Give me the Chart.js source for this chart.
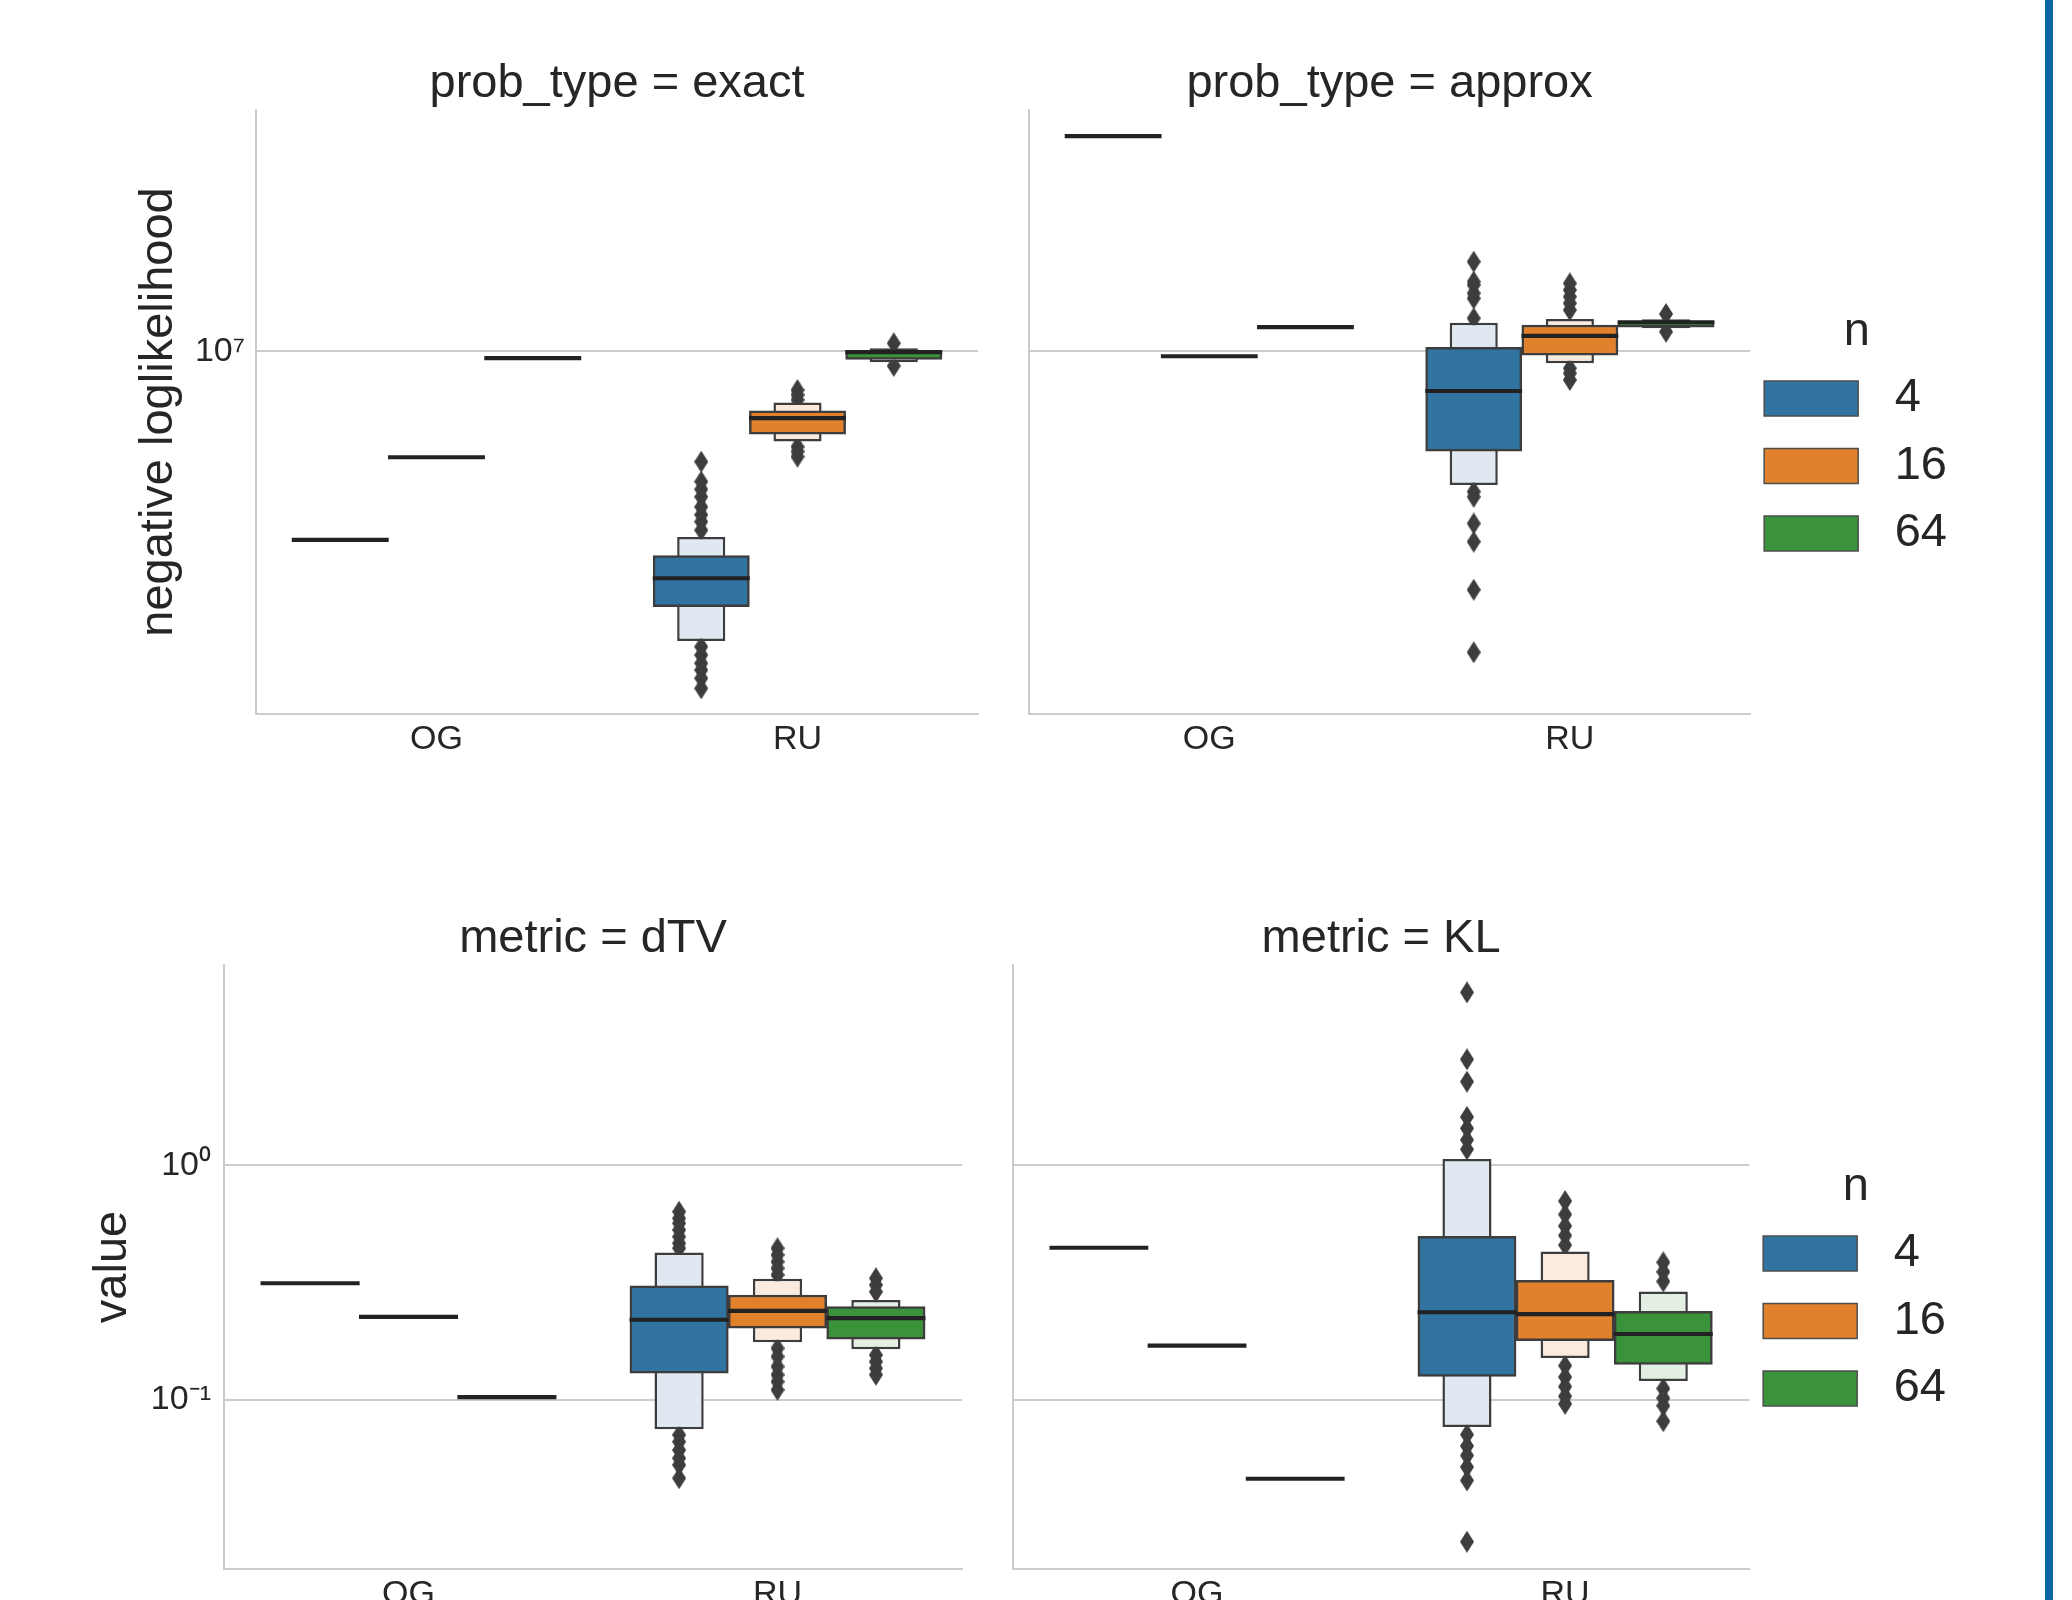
<!DOCTYPE html>
<html>
<head>
<meta charset="utf-8">
<script src="https://cdn.jsdelivr.net/npm/chart.js@4.4.1/dist/chart.umd.min.js"></script>
<style>
    html, body { margin: 0; padding: 0; background: #fff; }
    body { width: 2072px; height: 1600px; position: relative; overflow: hidden; }
    canvas { position: absolute; }
    #edge { position: absolute; left: 2045px; top: 0; width: 8px; height: 1600px; background: #0866a5; }
</style>
</head>
<body>
<canvas id="exactChart" width="960" height="800" style="left:60px;top:0px"></canvas>
<canvas id="approxChart" width="1040" height="800" style="left:1000px;top:0px"></canvas>
<canvas id="dtvChart" width="960" height="800" style="left:40px;top:840px"></canvas>
<canvas id="klChart" width="1050" height="800" style="left:990px;top:840px"></canvas>
<div id="edge"></div>
<script>
const categories = ['OG', 'RU'];
const nLevels = ['4', '16', '64'];
const hueColors = ['#3274a1', '#e1812c', '#3a923a'];
const hueLight = ['#e0e9f1', '#fbebdf', '#e2efe2'];

// tick labels
const nllTicks = [1e7];
const nllTickLabels = ['10⁷'];
const valueTicks = [1, 0.1];
const valueTickLabels = ['10⁰', '10⁻¹'];

// prob_type = exact   (per n: [OG, RU])
const exactMedian = [[3.62e6, 2.95e6], [5.63e6, 6.94e6], [9.56e6, 9.87e6]];
const exactQuartiles = [[null, [2.56e6, 3.36e6]], [null, [6.43e6, 7.28e6]], [null, [9.59e6, 1.004e7]]];
const exactOctiles = [[null, [2.13e6, 3.71e6]], [null, [6.18e6, 7.61e6]], [null, [9.44e6, 1.017e7]]];
const exactOutliers = [
    [[], [5.55e6, 4.99e6, 4.79e6, 4.60e6, 4.36e6, 4.18e6, 4.03e6, 3.85e6, 2.066e6, 1.976e6, 1.891e6, 1.824e6, 1.745e6, 1.654e6]],
    [[], [8.14e6, 7.93e6, 7.72e6, 6.01e6, 5.86e6, 5.70e6]],
    [[], [1.045e7, 9.26e6]]
];

// prob_type = approx
const approxMedian = [[3.13e7, 8.02e6], [9.66e6, 1.077e7], [1.128e7, 1.158e7]];
const approxQuartiles = [[null, [5.87e6, 1.023e7]], [null, [9.81e6, 1.152e7]], [null, [1.138e7, 1.177e7]]];
const approxOctiles = [[null, [4.90e6, 1.166e7]], [null, [9.39e6, 1.19e7]], [null, [1.132e7, 1.188e7]]];
const approxOutliers = [
    [[], [1.616e7, 1.452e7, 1.427e7, 1.365e7, 1.328e7, 1.194e7, 4.73e6, 4.60e6, 3.99e6, 3.62e6, 2.80e6, 2.005e6]],
    [[], [1.439e7, 1.389e7, 1.340e7, 1.294e7, 1.248e7, 9.14e6, 8.90e6, 8.59e6]],
    [[], [1.222e7, 1.111e7]]
];

// metric = dTV
const dtvMedian = [[0.309, 0.216], [0.222, 0.2355], [0.101, 0.2193]];
const dtvQuartiles = [[null, [0.130, 0.306]], [null, [0.202, 0.280]], [null, [0.1815, 0.250]]];
const dtvOctiles = [[null, [0.075, 0.425]], [null, [0.176, 0.328]], [null, [0.1644, 0.2667]]];
const dtvOutliers = [
    [[], [0.634, 0.594, 0.566, 0.530, 0.496, 0.465, 0.443, 0.0710, 0.0664, 0.0612, 0.0565, 0.0529, 0.0464]],
    [[], [0.443, 0.415, 0.388, 0.364, 0.341, 0.166, 0.153, 0.1387, 0.128, 0.1197, 0.1104]],
    [[], [0.330, 0.309, 0.289, 0.1555, 0.1456, 0.1364, 0.128]]
];

// metric = KL
const klMedian = [[0.4375, 0.2323], [0.1675, 0.228], [0.0454, 0.1877]];
const klQuartiles = [[null, [0.126, 0.498]], [null, [0.1788, 0.3236]], [null, [0.1417, 0.2388]]];
const klOctiles = [[null, [0.0768, 1.064]], [null, [0.151, 0.4287]], [null, [0.1205, 0.290]]];
const klOutliers = [
    [[], [5.45, 2.825, 2.27, 1.607, 1.436, 1.283, 1.169, 0.0712, 0.0637, 0.0580, 0.0518, 0.0454, 0.0249]],
    [[], [0.704, 0.617, 0.551, 0.502, 0.457, 0.140, 0.1252, 0.114, 0.1037, 0.0962]],
    [[], [0.386, 0.3514, 0.320, 0.1119, 0.1018, 0.0945, 0.0812]]
];

const FONT = "'Liberation Sans', Arial, sans-serif";
const TEXT = '#262626';
const EDGE = '#3d3d3d';
const SPINE = '#cccccc';
Chart.defaults.font.family = FONT;
Chart.defaults.color = TEXT;

// thin diamond marker for outliers
function thinDiamond(w, h, color) {
    const c = document.createElement('canvas');
    c.width = w;
    c.height = h;
    const g = c.getContext('2d');
    g.fillStyle = color;
    g.beginPath();
    g.moveTo(w / 2, 0);
    g.lineTo(w, h / 2);
    g.lineTo(w / 2, h);
    g.lineTo(0, h / 2);
    g.closePath();
    g.fill();
    return c;
}
const diamond = thinDiamond(14, 22, EDGE);

// pull the legend a little closer to the axes
const legendNudge = {
    id: 'legendNudge',
    afterLayout(chart) {
        const lg = chart.legend;
        if (lg && lg.options.display) {
            lg.left -= 6.5;
            lg.right -= 6.5;
        }
    }
};

// dodge: x position of hue h inside category c
const dodge = 0.8 / nLevels.length;
const hueX = (c, h) => c + (h - 1) * dodge;

function boxPoints(values, h) {
    const pts = [];
    values.forEach((v, c) => { if (v !== null) pts.push({ x: hueX(c, h), y: v }); });
    return pts;
}

function boxenDatasets(median, quartiles, octiles, outliers) {
    const sets = [];
    nLevels.forEach((n, h) => {
        sets.push({
            label: n, data: boxPoints(quartiles[h], h), order: 1, grouped: false,
            backgroundColor: hueColors[h], borderColor: EDGE, borderWidth: 2.5, borderSkipped: false,
            barPercentage: 1, categoryPercentage: 1
        });
        sets.push({
            label: n + ' outer', data: boxPoints(octiles[h], h), order: 2, grouped: false,
            backgroundColor: hueLight[h], borderColor: EDGE, borderWidth: 2.5, borderSkipped: false,
            barPercentage: 0.5, categoryPercentage: 1
        });
        sets.push({
            label: n + ' median', data: boxPoints(median[h].map(v => [v, v]), h), order: 0, grouped: false,
            backgroundColor: '#222222', borderWidth: 0, minBarLength: 3.5,
            barPercentage: 1, categoryPercentage: 1
        });
        sets.push({
            type: 'scatter', label: n + ' outliers', order: 3,
            data: outliers[h].flatMap((vals, c) => vals.map(v => ({ x: hueX(c, h), y: v }))),
            pointStyle: diamond
        });
    });
    return sets;
}

function makePanel(id, cfg) {
    return new Chart(document.getElementById(id), {
        type: 'bar',
        data: { datasets: boxenDatasets(cfg.median, cfg.quartiles, cfg.octiles, cfg.outliers) },
        plugins: [legendNudge],
        options: {
            responsive: false,
            maintainAspectRatio: false,
            devicePixelRatio: 1,
            animation: false,
            events: [],
            layout: { padding: { left: 0, top: 0, right: cfg.padRight, bottom: cfg.padBottom } },
            scales: {
                x: {
                    type: 'linear', min: -0.5, max: 1.5, offset: false, bounds: 'data',
                    afterBuildTicks: s => { s.ticks = categories.map((c, i) => ({ value: i })); },
                    afterFit: s => { s.height = 60; },
                    grid: { display: false, drawTicks: false },
                    border: { color: SPINE, width: 2 },
                    ticks: { padding: 5, font: { size: 34 }, callback: v => categories[v] }
                },
                y: {
                    type: 'logarithmic', min: cfg.yMin, max: cfg.yMax, stacked: false, bounds: 'data',
                    afterBuildTicks: s => { s.ticks = cfg.tickValues.map(v => ({ value: v })); },
                    afterFit: s => { s.width = cfg.yWidth; },
                    grid: { color: SPINE, lineWidth: 2, drawTicks: false },
                    border: { color: SPINE, width: 2 },
                    ticks: {
                        display: cfg.yLabels,
                        padding: cfg.tickPad,
                        font: { size: 34 },
                        callback: v => cfg.tickLabels[cfg.tickValues.indexOf(v)]
                    },
                    title: {
                        display: !!cfg.yTitle, text: cfg.yTitle,
                        font: { size: 47 }, padding: { top: cfg.yTitlePad, bottom: 0 }
                    }
                }
            },
            plugins: {
                tooltip: { enabled: false },
                title: {
                    display: true, text: cfg.title, fullSize: false,
                    font: { size: 47, weight: 'normal', lineHeight: 1 },
                    padding: { top: cfg.titlePadTop, bottom: cfg.titlePadBottom }
                },
                legend: {
                    display: !!cfg.legend,
                    position: 'right',
                    fullSize: false,
                    align: 'center',
                    title: {
                        display: true, text: ' n',
                        font: { size: 47, lineHeight: 0.9 },
                        padding: { top: 62, bottom: 3.7 }
                    },
                    labels: {
                        boxWidth: 94, boxHeight: 35, padding: 20.5,
                        font: { size: 47 },
                        generateLabels: () => nLevels.map((n, h) => ({
                            text: ' ' + n, fillStyle: hueColors[h], strokeStyle: '#4d4d4d',
                            lineWidth: 1.5, hidden: false, datasetIndex: h
                        }))
                    }
                }
            }
        }
    });
}

const nllMin = 1.442e6, nllMax = 3.633e7;
const valueMin = 0.01905, valueMax = 7.129;

makePanel('exactChart', {
    title: 'prob_type = exact', median: exactMedian, quartiles: exactQuartiles, octiles: exactOctiles, outliers: exactOutliers,
    yMin: nllMin, yMax: nllMax, tickValues: nllTicks, tickLabels: nllTickLabels, yLabels: true, tickPad: 11,
    yTitle: 'negative loglikelihood', yTitlePad: 70.5, yWidth: 196,
    padRight: 42, padBottom: 26, titlePadTop: 60.7, titlePadBottom: 2.3, legend: false
});
makePanel('approxChart', {
    title: 'prob_type = approx', median: approxMedian, quartiles: approxQuartiles, octiles: approxOctiles, outliers: approxOutliers,
    yMin: nllMin, yMax: nllMax, tickValues: nllTicks, tickLabels: nllTickLabels, yLabels: false, tickPad: 11,
    yTitle: '', yTitlePad: 0, yWidth: 29,
    padRight: 76.5, padBottom: 26, titlePadTop: 60.7, titlePadBottom: 2.3, legend: true
});
makePanel('dtvChart', {
    title: 'metric = dTV', median: dtvMedian, quartiles: dtvQuartiles, octiles: dtvOctiles, outliers: dtvOutliers,
    yMin: valueMin, yMax: valueMax, tickValues: valueTicks, tickLabels: valueTickLabels, yLabels: true, tickPad: 13,
    yTitle: 'value', yTitlePad: 44.5, yWidth: 184,
    padRight: 38, padBottom: 11, titlePadTop: 75.7, titlePadBottom: 2.3, legend: false
});
makePanel('klChart', {
    title: 'metric = KL', median: klMedian, quartiles: klQuartiles, octiles: klOctiles, outliers: klOutliers,
    yMin: valueMin, yMax: valueMax, tickValues: valueTicks, tickLabels: valueTickLabels, yLabels: false, tickPad: 13,
    yTitle: '', yTitlePad: 0, yWidth: 23,
    padRight: 77.5, padBottom: 11, titlePadTop: 75.7, titlePadBottom: 2.3, legend: true
});
</script>
</body>
</html>
